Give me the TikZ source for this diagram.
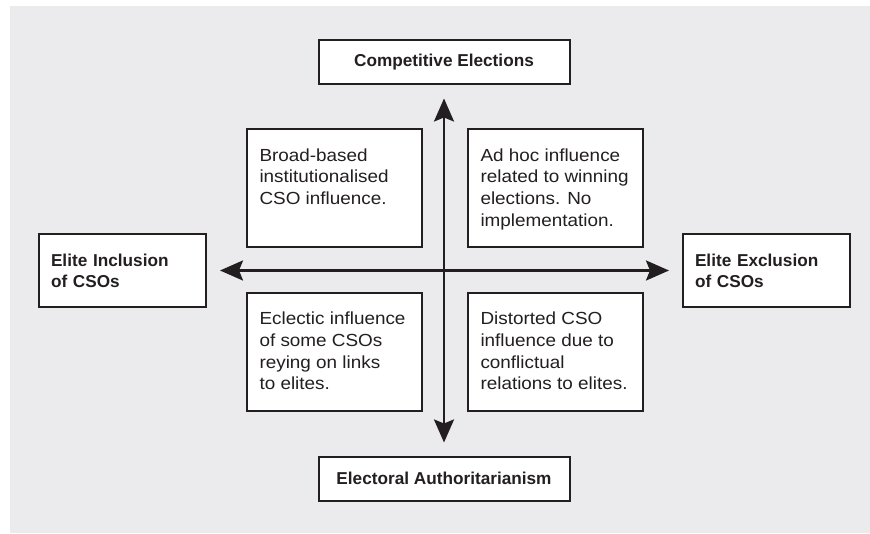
\documentclass[tikz,border=0pt]{standalone}
\usepackage{fontspec}
\setmainfont{Liberation Sans}[FakeStretch=1.08, BoldFeatures={FakeStretch=1.0}]
\usetikzlibrary{positioning,arrows.meta}
\definecolor{panel}{RGB}{235,235,237}
\definecolor{ink}{RGB}{35,31,32}
\newcommand{\quadtext}[1]{\parbox[c][94pt][t]{150pt}{\raggedright\vspace*{7pt}#1}}
\begin{document}
\begin{tikzpicture}[
  box/.style={draw=ink, line width=2pt, fill=white, text=ink},
  pole/.style={box, font=\fontsize{17.2}{21}\selectfont\bfseries, minimum width=251pt, minimum height=44pt},
  side/.style={box, font=\fontsize{17.2}{21}\selectfont\bfseries, text width=143pt, inner xsep=12pt, minimum height=73pt, align=left},
  quad/.style={box, font=\fontsize{17.5}{21.7}\selectfont, inner xsep=12.5pt, inner ysep=12pt},
  axis/.style={draw=ink, line width=2.6pt, -{Stealth[length=23pt,width=20pt,inset=4pt]}, shorten >=13pt}]
  \useasboundingbox (0,0) rectangle (870pt,533pt);
  \fill[panel] (10pt,0) rectangle (870pt,527pt);
  \coordinate (c) at (444pt,262.5pt);
  \node(ce)[pole, above=185pt of c] {Competitive Elections};
  \node(ea)[pole, below=185pt of c] {Electoral Authoritarianism};
  \node(ei)[side, left=237pt of c] {Elite Inclusion\\of CSOs};
  \node(ee)[side, right=238pt of c] {Elite Exclusion\\of CSOs};
  \node(q1)[quad, above left=22pt and 21pt of c] {\quadtext{Broad-based\\institutionalised\\CSO influence.}};
  \node(q2)[quad, above right=22pt and 23pt of c] {\quadtext{Ad hoc influence\\related to winning\\elections. No\\implementation.}};
  \node(q3)[quad, below left=21.5pt and 21pt of c] {\quadtext{Eclectic influence\\of some CSOs\\reying on links\\to elites.}};
  \node(q4)[quad, below right=21.5pt and 23pt of c] {\quadtext{Distorted CSO\\influence due to\\conflictual\\relations to elites.}};
  \draw[axis] (c) -- (c |- ce.south);
  \draw[axis] (c) -- (c |- ea.north);
  \draw[axis] (c) -- (c -| ei.east);
  \draw[axis] (c) -- (c -| ee.west);
\end{tikzpicture}
\end{document}
